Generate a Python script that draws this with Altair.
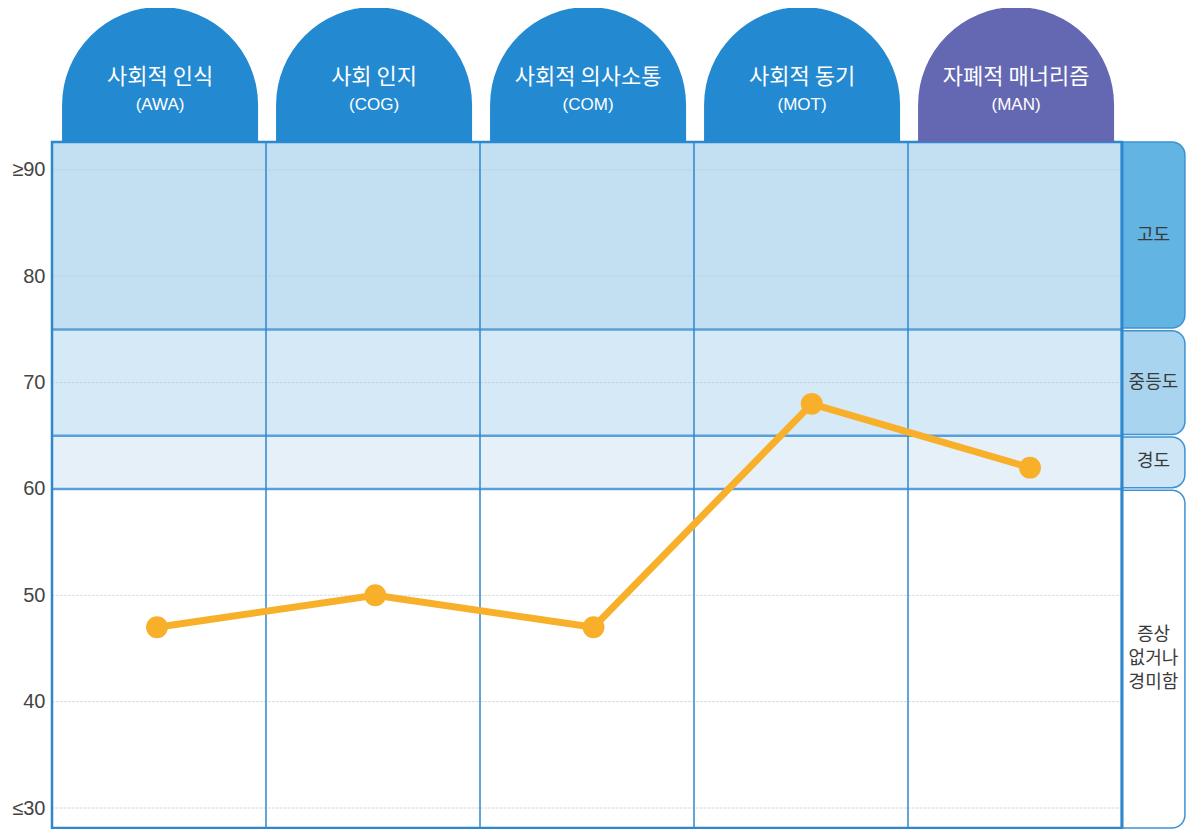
import altair as alt
import pandas as pd

# ---- data ----
codes = ["AWA", "COG", "COM", "MOT", "MAN"]
names_ko = ["사회적 인식", "사회 인지", "사회적 의사소통", "사회적 동기", "자폐적 매너리즘"]
scores = [47, 50, 47, 68, 62]
tab_colors = ["#2389d0", "#2389d0", "#2389d0", "#2389d0", "#6468b2"]

band_names = ["고도", "중등도", "경도", "증상\n없거나\n경미함"]
band_low = [75, 65, 60, 28.12]
band_high = [92.62, 75, 65, 60]
band_label_y = [83.8, 70.0, 62.5, 46.3]
band_fill = ["#c3e0f2", "#d6e9f6", "#e5f0f9", "#ffffff"]
panel_fill = ["#62b4e2", "#a8d4f0", "#cfe6f7", "#ffffff"]

tick_values = [30, 40, 50, 60, 70, 80, 90]
grid_values = [30, 40, 50, 70, 80, 90]
boundary_values = [75, 65, 60]

Y_MIN, Y_MAX = 28.12, 92.62
TAB_SHOULDER = 96.1
PANEL_W = 0.294
W, H = 1070, 686
TAB_R = 98

xs = alt.Scale(domain=[0, 5], nice=False, zero=False)
ys = alt.Scale(domain=[Y_MIN, Y_MAX], nice=False, zero=False)
# points sit on their own, slightly wider spacing than the columns
xp = alt.Scale(domain=[0, 4], range=[105, 978], nice=False, zero=False)

n = len(codes)
pts = pd.DataFrame({"i": list(range(n)), "score": scores, "code": codes})

bands = pd.DataFrame({"x0": [0] * 4, "x1": [5] * 4, "lo": band_low, "hi": band_high,
                      "fill": band_fill, "name": band_names})
panel = pd.DataFrame({"x0": [5.0] * 4, "x1": [5 + PANEL_W] * 4,
                      "lo": [b + 0.12 if i < 3 else b for i, b in enumerate(band_low)],
                      "hi": [h - 0.12 if i > 0 else h for i, h in enumerate(band_high)],
                      "fill": panel_fill, "name": band_names,
                      "xm": [5 + PANEL_W / 2] * 4,
                      "ym": band_label_y})

tabs = pd.DataFrame({"x0": [i + 0.047 for i in range(n)], "x1": [i + 0.963 for i in range(n)],
                     "lo": [Y_MAX] * n, "hi": [TAB_SHOULDER] * n, "col": tab_colors,
                     "xm": [i + 0.505 for i in range(n)], "name": names_ko,
                     "code": ["(" + c + ")" for c in codes],
                     "yn": [98.7] * n, "yc": [96.1] * n})

grid = pd.DataFrame({"y": grid_values})
bounds = pd.DataFrame({"y": boundary_values})
vlines = pd.DataFrame({"x": [1, 2, 3, 4]})

X = lambda f: alt.X(f, type="quantitative", scale=xs, axis=None)

band_layer = alt.Chart(bands).mark_rect().encode(
    x=X("x0"), x2="x1",
    y=alt.Y("lo:Q", scale=ys, axis=alt.Axis(
        values=tick_values, title=None, domain=False, ticks=False, grid=False,
        labelFontSize=20, labelColor="#444444", labelPadding=7, labelFont="Liberation Sans",
        labelExpr="datum.value == 90 ? '≥90' : datum.value == 30 ? '≤30' : datum.label")),
    y2="hi",
    fill=alt.Fill("fill:N", scale=None),
)

grid_layer = alt.Chart(grid).mark_rule(color="#b9c6d0", strokeWidth=1, strokeDash=[3, 1], opacity=0.6).encode(
    y=alt.Y("y:Q", scale=ys), x=alt.value(0), x2=alt.value(W))

bound_layer = alt.Chart(bounds).mark_rule(color="#5b9fd8", strokeWidth=2.5).encode(
    y=alt.Y("y:Q", scale=ys), x=alt.value(0), x2=alt.value(W))

vline_layer = alt.Chart(vlines).mark_rule(color="#2d88cf", strokeWidth=1.5).encode(
    x=X("x"), y=alt.value(0), y2=alt.value(H))

frame = alt.Chart(pd.DataFrame({"x0": [0], "x1": [5], "lo": [Y_MIN], "hi": [Y_MAX]})).mark_rect(
    fill=None, stroke="#2d88cf", strokeWidth=2.5).encode(x=X("x0"), x2="x1", y=alt.Y("lo:Q", scale=ys), y2="hi")

panel_layer = alt.Chart(panel).mark_rect(
    stroke="#3d92d4", strokeWidth=1.5, cornerRadiusTopRight=13, cornerRadiusBottomRight=13).encode(
    x=X("x0"), x2="x1", y=alt.Y("lo:Q", scale=ys), y2="hi", fill=alt.Fill("fill:N", scale=None))

panel_edge = alt.Chart(pd.DataFrame({"x": [5]})).mark_rule(color="#2d88cf", strokeWidth=3).encode(
    x=X("x"), y=alt.value(0), y2=alt.value(H))

panel_text = alt.Chart(panel).mark_text(font="Noto Sans CJK KR", fontSize=18, color="#3a3a3a",
                                        lineBreak="\n", lineHeight=24).encode(
    x=X("xm"), y=alt.Y("ym:Q", scale=ys), text="name:N")

tab_body = alt.Chart(tabs).mark_rect().encode(
    x=X("x0"), x2="x1", y=alt.Y("lo:Q", scale=ys), y2="hi", fill=alt.Fill("col:N", scale=None))

tab_dome = alt.Chart(tabs).mark_arc(radius=TAB_R, theta=4.7124, theta2=7.8540).encode(
    x=X("xm"), y=alt.Y("hi:Q", scale=ys), fill=alt.Fill("col:N", scale=None))

tab_name = alt.Chart(tabs).mark_text(font="Noto Sans CJK KR", fontSize=22, fontWeight="normal", color="white").encode(
    x=X("xm"), y=alt.Y("yn:Q", scale=ys), text="name:N")

tab_code = alt.Chart(tabs).mark_text(font="Liberation Sans", fontSize=17, color="white").encode(
    x=X("xm"), y=alt.Y("yc:Q", scale=ys), text="code:N")

line = alt.Chart(pts).mark_line(color="#f8b02b", strokeWidth=7).encode(
    x=alt.X("i:Q", scale=xp, axis=None), y=alt.Y("score:Q", scale=ys))
dots = alt.Chart(pts).mark_circle(color="#f8b02b", size=480, opacity=1).encode(
    x=alt.X("i:Q", scale=xp, axis=None), y=alt.Y("score:Q", scale=ys))

chart = alt.layer(
    band_layer, grid_layer, bound_layer, vline_layer, frame,
    panel_layer, panel_edge, panel_text,
    tab_body, tab_dome, tab_name, tab_code,
    line, dots,
).resolve_scale(x="independent").properties(
    width=W, height=H,
    autosize=alt.AutoSizeParams(type="none"),
    padding={"left": 44, "top": 134, "right": 64, "bottom": 1},
).configure_view(stroke=None).configure(background="white")

chart.save("out.html", embed_options={"renderer": "svg", "actions": False})
